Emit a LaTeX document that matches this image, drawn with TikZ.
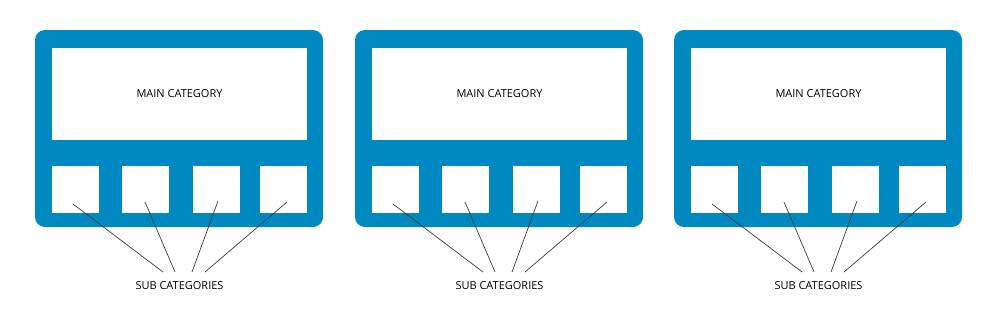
\documentclass[tikz,border=0pt]{standalone}
\usepackage{fontspec}
\setmainfont{Open Sans}
\definecolor{panelblue}{HTML}{0089C0}
\definecolor{linegray}{HTML}{3A3A3A}
\begin{document}
\begin{tikzpicture}[x=1pt,y=-1pt,
  frame/.style={fill=panelblue,draw=none,rounded corners=10pt},
  mainbox/.style={fill=white,draw=none,minimum width=255pt,minimum height=92pt,inner sep=0pt,font=\fontsize{11}{13}\selectfont},
  subbox/.style={fill=white,draw=none,minimum width=47pt,minimum height=47pt,inner sep=0pt},
  lbl/.style={inner sep=0pt,font=\fontsize{11}{13}\selectfont},
  conn/.style={draw=linegray,line width=0.7pt}]
\useasboundingbox (0,0) rectangle (1000,322);
\foreach \i/\dx in {1/0,2/320,3/639}{
  \begin{scope}[xshift=\dx pt]
    \fill[frame] (35,30) rectangle (323,227);
    \node[mainbox] (main\i) at (179.5,94) {MAIN CATEGORY};
    \node[subbox] (s\i a) at (75.5,189.5) {};
    \node[subbox] (s\i b) at (145.5,189.5) {};
    \node[subbox] (s\i c) at (216.5,189.5) {};
    \node[subbox] (s\i d) at (283.5,189.5) {};
    \coordinate (s\i a-p) at (73,204);
    \coordinate (s\i b-p) at (145,202);
    \coordinate (s\i c-p) at (218,201);
    \coordinate (s\i d-p) at (287,202);
    \node[lbl] (sub\i) at (179.5,286) {SUB CATEGORIES};
    \coordinate (e\i a) at (163,272);
    \coordinate (e\i b) at (175,272);
    \coordinate (e\i c) at (192,272);
    \coordinate (e\i d) at (205,272);
    \draw[conn] (s\i a-p) -- (e\i a);
    \draw[conn] (s\i b-p) -- (e\i b);
    \draw[conn] (s\i c-p) -- (e\i c);
    \draw[conn] (s\i d-p) -- (e\i d);
  \end{scope}
}
\end{tikzpicture}
\end{document}
